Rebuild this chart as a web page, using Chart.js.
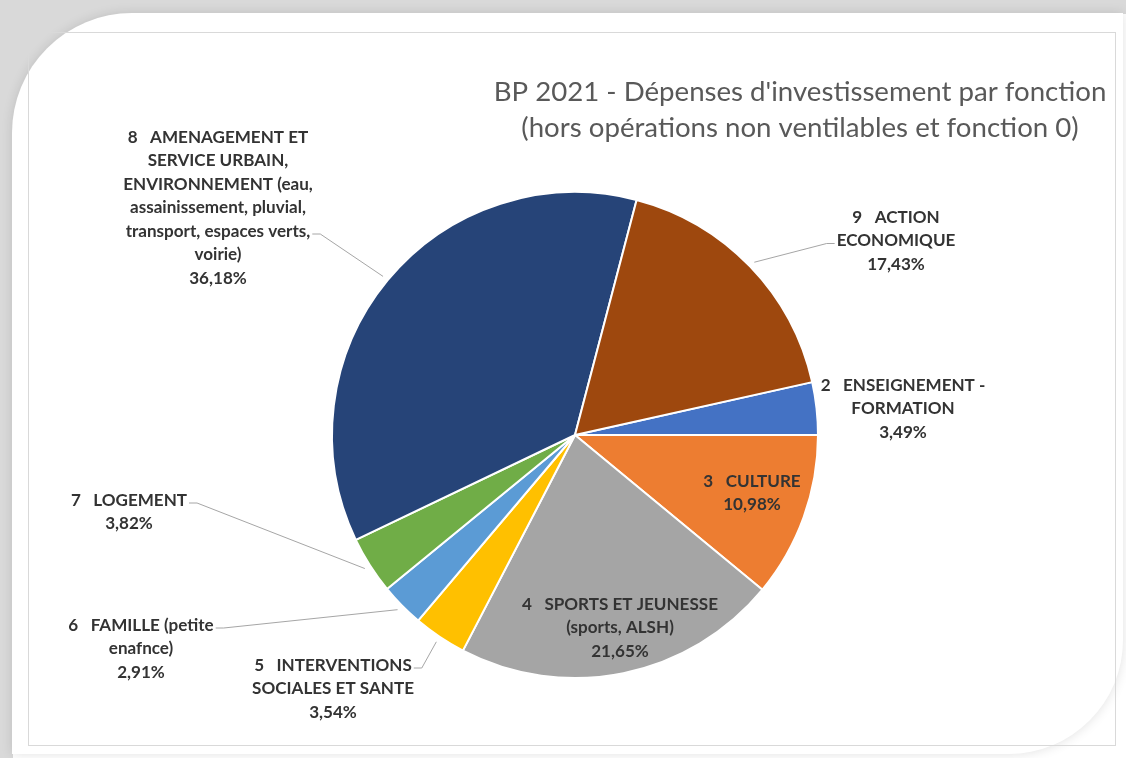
<!DOCTYPE html>
<html>
<head>
<meta charset="utf-8">
<script src="https://cdn.jsdelivr.net/npm/chart.js@4.4.1/dist/chart.umd.min.js"></script>
<style>
html, body { margin: 0; padding: 0; background: #fff; }
canvas { display: block; }
</style>
</head>
<body>
<canvas id="myChart" width="1126" height="758"></canvas>
<script>
const categories = [
    ['2   ENSEIGNEMENT -', 'FORMATION'],
    ['3   CULTURE'],
    ['4   SPORTS ET JEUNESSE', '(sports, ALSH)'],
    ['5   INTERVENTIONS', 'SOCIALES ET SANTE'],
    ['6   FAMILLE (petite', 'enafnce)'],
    ['7   LOGEMENT'],
    ['8   AMENAGEMENT ET', 'SERVICE URBAIN,', 'ENVIRONNEMENT (eau,', 'assainissement, pluvial,', 'transport, espaces verts,', 'voirie)'],
    ['9   ACTION', 'ECONOMIQUE']
];
const shares = [3.49, 10.98, 21.65, 3.54, 2.91, 3.82, 36.18, 17.43];
const colors = ['#4472c4', '#ed7d31', '#a5a5a5', '#ffc000', '#5b9bd5', '#70ad47', '#264478', '#9e480e'];
const titleLines = ["BP 2021 - Dépenses d'investissement par fonction", '(hors opérations non ventilables et fonction 0)'];

// label placement, offset from the pie centre; lead = text line the leader line starts from
const labelSpots = [
    {dx: 328, dy: -50},
    {dx: 177, dy: 46},
    {dx: 45, dy: 169},
    {dx: -242, dy: 230, lead: 0, side: 'right'},
    {dx: -434, dy: 190, lead: 0, side: 'right'},
    {dx: -446, dy: 65, lead: 0, side: 'right'},
    {dx: -357, dy: -298, lead: 4, side: 'right'},
    {dx: 321, dy: -218, lead: 1, side: 'left'}
];
const lineGap = 23.5;

const pct = v => v.toFixed(2).replace('.', ',') + '%';

function fitSize(ctx, weight, family, text, target) {
    ctx.font = weight + ' 20px ' + family;
    return 20 * target / ctx.measureText(text).width;
}

const framePlugin = {
    id: 'frame',
    beforeDraw(chart) {
        const ctx = chart.ctx;
        const w = chart.width, h = chart.height;
        ctx.save();
        ctx.fillStyle = '#fff';
        ctx.fillRect(0, 0, w, h);
        // grey shadow strips top and left
        ctx.fillStyle = '#d9d9d9';
        ctx.fillRect(0, 0, w, 14);
        ctx.fillRect(0, 0, 13, h);
        ctx.fillRect(0, 0, 132, 133);

        // white card
        ctx.shadowColor = 'rgba(0,0,0,0.12)';
        ctx.shadowBlur = 12;
        ctx.fillStyle = '#fff';
        ctx.beginPath();
        ctx.moveTo(12, 754);
        ctx.lineTo(12, 133);
        ctx.arcTo(12, 13, 132, 13, 120);
        ctx.lineTo(1123, 13);
        ctx.lineTo(1123, 640);
        ctx.arcTo(1123, 754, 1009, 754, 114);
        ctx.lineTo(12, 754);
        ctx.closePath();
        ctx.fill();
        ctx.shadowColor = 'transparent';
        ctx.shadowBlur = 0;

        ctx.strokeStyle = '#d9d9d9';
        ctx.lineWidth = 1;
        ctx.strokeRect(28.5, 32.5, 1087, 713);
        ctx.restore();
    },
    afterDraw(chart) {
        const ctx = chart.ctx;
        ctx.save();
        const size = fitSize(ctx, 'normal', 'Lato', titleLines[0], 613);
        ctx.font = size + 'px Lato';
        ctx.fillStyle = '#595959';
        ctx.textAlign = 'center';
        ctx.textBaseline = 'middle';
        ctx.fillText(titleLines[0], 800, 92);
        ctx.fillText(titleLines[1], 800, 128);
        ctx.restore();
    }
};

const labelPlugin = {
    id: 'sliceLabels',
    afterDatasetsDraw(chart) {
        const ctx = chart.ctx;
        const meta = chart.getDatasetMeta(0);
        ctx.save();
        const size = fitSize(ctx, 'bold', 'Lato', 'SOCIALES ET SANTE', 162);
        ctx.font = 'bold ' + size + 'px Lato';
        ctx.fillStyle = '#333333';
        ctx.textAlign = 'center';
        ctx.textBaseline = 'middle';
        meta.data.forEach((arc, i) => {
            const p = arc.getProps(['x', 'y', 'startAngle', 'endAngle', 'outerRadius'], true);
            const spot = labelSpots[i];
            const lines = chart.data.labels[i].concat(pct(shares[i]));
            const cx = p.x + spot.dx, top = p.y + spot.dy;
            lines.forEach((t, k) => ctx.fillText(t, cx, top + k * lineGap));
            if (spot.lead !== undefined) {
                const half = ctx.measureText(lines[spot.lead]).width / 2;
                const ly = top + spot.lead * lineGap + 3;
                const lx = spot.side === 'right' ? cx + half + 2 : cx - half - 2;
                const kx = spot.side === 'right' ? lx + 8 : lx - 8;
                const mid = (p.startAngle + p.endAngle) / 2;
                const ex = p.x + Math.cos(mid) * (p.outerRadius + 6);
                const ey = p.y + Math.sin(mid) * (p.outerRadius + 6);
                ctx.beginPath();
                ctx.moveTo(lx, ly);
                ctx.lineTo(kx, ly);
                ctx.lineTo(ex, ey);
                ctx.strokeStyle = '#a6a6a6';
                ctx.lineWidth = 1;
                ctx.stroke();
            }
        });
        ctx.restore();
    }
};

const data = {
    labels: categories,
    datasets: [{
        data: shares,
        backgroundColor: colors,
        borderColor: '#ffffff',
        borderWidth: 2
    }]
};

const config = {
    type: 'pie',
    data: data,
    options: {
        responsive: false,
        animation: false,
        rotation: 90 - shares[0] * 3.6,
        layout: {padding: {left: 331, right: 307, top: 191, bottom: 79}},
        plugins: {
            legend: {display: false},
            tooltip: {enabled: false}
        }
    },
    plugins: [framePlugin, labelPlugin]
};

new Chart(document.getElementById('myChart'), config);
</script>
</body>
</html>
